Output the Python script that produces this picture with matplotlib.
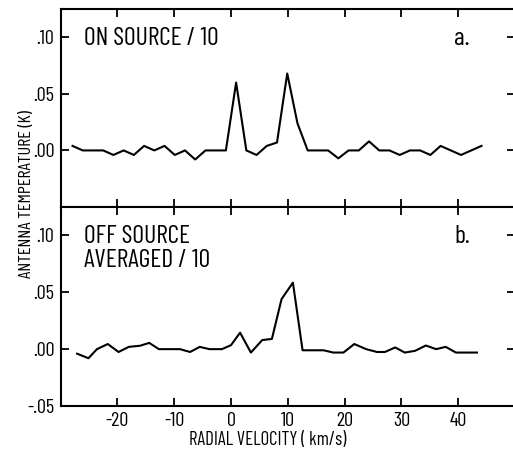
import matplotlib
matplotlib.use("Agg")
import matplotlib.pyplot as plt
from matplotlib.ticker import FuncFormatter

# ---- data ----
v_on = [-27.9, -26.1, -24.3, -22.5, -20.7, -18.9, -17.1, -15.3, -13.5, -11.7,
        -9.9, -8.1, -6.3, -4.5, -2.7, -0.9, 0.9, 2.7, 4.5, 6.3,
        8.1, 9.9, 11.7, 13.5, 15.3, 17.1, 18.9, 20.7, 22.5, 24.3,
        26.1, 27.9, 29.7, 31.5, 33.3, 35.1, 36.9, 38.7, 40.5, 42.3, 44.1]
t_on = [0.004, 0.0, 0.0, 0.0, -0.004, 0.0, -0.004, 0.004, 0.0, 0.004,
        -0.004, 0.0, -0.008, 0.0, 0.0, 0.0, 0.060, 0.0, -0.004, 0.004,
        0.007, 0.068, 0.024, 0.0, 0.0, 0.0, -0.007, 0.0, 0.0, 0.008,
        0.0, 0.0, -0.004, 0.0, 0.0, -0.004, 0.004, 0.0, -0.004, 0.0, 0.004]

v_off = [-27.1, -25.1, -23.6, -21.7, -19.8, -18.0, -16.0, -14.4, -12.7, -10.7,
         -9.0, -7.2, -5.5, -3.8, -1.6, 0.0, 1.6, 3.5, 5.5, 7.2,
         8.9, 10.9, 12.6, 14.4, 16.3, 18.0, 19.8, 21.7, 23.8, 25.7,
         27.1, 28.9, 30.6, 32.4, 34.3, 36.1, 37.8, 39.6, 41.5, 43.3]
t_off = [-0.004, -0.008, 0.0, 0.0045, -0.0025, 0.002, 0.003, 0.0055, 0.0, 0.0,
         0.0, -0.0025, 0.002, 0.0, 0.0, 0.0035, 0.0145, -0.003, 0.008, 0.009,
         0.044, 0.0585, -0.001, -0.001, -0.001, -0.003, -0.003, 0.0045, 0.0, -0.0025,
         -0.0025, 0.0015, -0.003, -0.0015, 0.0032, 0.0, 0.002, -0.003, -0.003, -0.003]

xticks = [-20, -10, 0, 10, 20, 30, 40]
yticks_top = [0.0, 0.05, 0.10]
yticks_bot = [-0.05, 0.0, 0.05, 0.10]

# ---- style ----
FONT = ['Barlow Condensed', 'DejaVu Sans']
plt.rcParams['font.family'] = FONT
plt.rcParams['font.weight'] = 'normal'

W, H = 513, 451
fig = plt.figure(figsize=(W / 100, H / 100), dpi=100)

x0 = 60.6 / W
wid = (515.0 - 60.6) / W
ax1 = fig.add_axes([x0, (H - 207) / H, wid, (207 - 9) / H])
ax2 = fig.add_axes([x0, (H - 406) / H, wid, (406 - 207) / H])

def fmt(v, pos):
    s = f"{v:.2f}"
    s = s.replace("0.", ".", 1)
    if s == "-.00":
        s = ".00"
    return s

for ax in (ax1, ax2):
    ax.set_xlim(-30, 50)
    ax.set_ylim(-0.05, 0.125)
    ax.set_xticks(xticks)
    ax.tick_params(direction='in', length=6, width=1.3, top=True, right=True,
                   labelsize=14.5, pad=4.5, colors='black')
    for s in ax.spines.values():
        s.set_linewidth(1.5)
    ax.yaxis.set_major_formatter(FuncFormatter(fmt))

ax1.set_yticks(yticks_top)
ax2.set_yticks(yticks_bot)
ax1.tick_params(labelbottom=False)
ax2.set_xticklabels([str(t) for t in xticks])

ax1.plot(v_on, t_on, color='black', lw=1.5)
ax2.plot(v_off, t_off, color='black', lw=1.5)

PT = 18.5
ax1.text(-25.9, 0.1095, "ON SOURCE\u2009/\u200910", fontsize=PT, va='top', ha='left')
ax1.text(39.3, 0.1095, "a.", fontsize=PT, va='top', ha='left')
ax2.text(-25.9, 0.1095, "OFF SOURCE\nAVERAGED\u2009/\u200910", fontsize=PT, va='top',
         ha='left', linespacing=1.05)
ax2.text(39.3, 0.1095, "b.", fontsize=PT, va='top', ha='left')

fig.text(268 / W, (H - 440) / H, "RADIAL VELOCITY (\u2009km/s)", fontsize=13.5,
         ha='center', va='center')
fig.text(27 / W, (H - 194) / H, "ANTENNA TEMPERATURE (K)", rotation=90,
         fontsize=13, ha='center', va='center')

fig.savefig("out.png", dpi=100)
